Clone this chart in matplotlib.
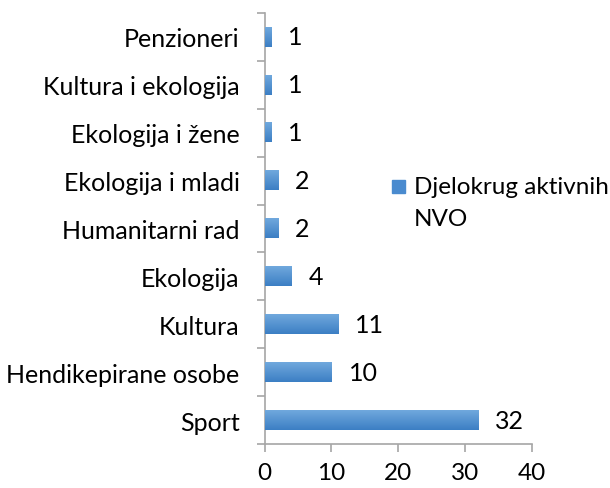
import numpy as np
import matplotlib.pyplot as plt
from matplotlib.patches import Rectangle
from matplotlib.colors import LinearSegmentedColormap

# podaci (odozdo prema gore)
kategorije = ["Sport", "Hendikepirane osobe", "Kultura", "Ekologija",
              "Humanitarni rad", "Ekologija i mladi", "Ekologija i žene",
              "Kultura i ekologija", "Penzioneri"]
vrijednosti = [32, 10, 11, 4, 2, 2, 1, 1, 1]
x_ticks = [0, 10, 20, 30, 40]

plt.rcParams['font.family'] = ['Lato', 'DejaVu Sans']
plt.rcParams['font.size'] = 18

fig = plt.figure(figsize=(6.10, 4.89), dpi=100)
ax = fig.add_axes([0.434, 0.09, 0.4377, 0.8815])

y = np.arange(len(kategorije))
bars = ax.barh(y, vrijednosti, height=0.41, color="#4A8BCF", zorder=2)

# gradijent na stupcima
grad = np.linspace(0, 1, 50).reshape(-1, 1)
cmap = LinearSegmentedColormap.from_list("g", ["#3C7FC4", "#70A8DD"])
for b in bars:
    x0, y0, w, h = b.get_x(), b.get_y(), b.get_width(), b.get_height()
    ax.imshow(grad, extent=(x0, x0 + w, y0, y0 + h), cmap=cmap,
              aspect='auto', origin='lower', zorder=3)

for yi, v in zip(y, vrijednosti):
    ax.annotate(str(v), (v, yi), xytext=(17, 0), textcoords='offset pixels',
                va='center', ha='left', fontsize=18)

ax.set_xlim(0, 40)
ax.set_ylim(-0.5, len(kategorije) - 0.5)
ax.set_xticks(x_ticks)
ax.set_yticks(y)
ax.set_yticklabels(kategorije)
ax.set_yticks(np.arange(len(kategorije) + 1) - 0.5, minor=True)

for s in ['top', 'right']:
    ax.spines[s].set_visible(False)
for s in ['left', 'bottom']:
    ax.spines[s].set_color("#A6A6A6")
    ax.spines[s].set_linewidth(1.2)

ax.tick_params(axis='y', which='major', length=0, pad=18)
ax.tick_params(axis='y', which='minor', length=6, color="#A6A6A6", width=1.2)
ax.tick_params(axis='x', which='major', length=6, color="#A6A6A6", width=1.2,
               pad=7, labelsize=17.5)

# legenda
fig.patches.append(Rectangle((392 / 610, 1 - 194 / 489), 13 / 610, 13 / 489,
                             transform=fig.transFigure, color="#4A8BCF"))
fig.text(414 / 610, 1 - 188 / 489, "Djelokrug aktivnih", va='center', ha='left',
         fontsize=17.5)
fig.text(414 / 610, 1 - 219 / 489, "NVO", va='center', ha='left', fontsize=17.5)

fig.savefig("out.png", dpi=100)
